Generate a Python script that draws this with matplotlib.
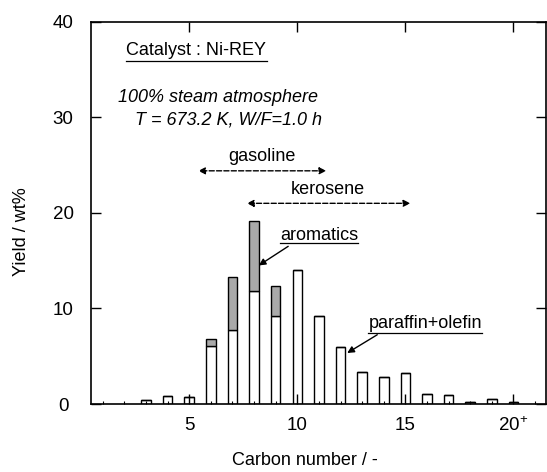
import numpy as np
import matplotlib
matplotlib.use("Agg")
import matplotlib.pyplot as plt

plt.rcParams['font.family'] = ['Liberation Sans', 'DejaVu Sans']
plt.rcParams['mathtext.fontset'] = 'custom'
plt.rcParams['mathtext.rm'] = 'Liberation Sans'
plt.rcParams['mathtext.it'] = 'Liberation Sans:italic'

# carbon number and yields (wt%)
carbon = [3, 4, 5, 6, 7, 8, 9, 10, 11, 12, 13, 14, 15, 16, 17, 18, 19, 20]
paraffin_olefin = [0.4, 0.87, 0.77, 6.1, 7.75, 11.85, 9.2, 14.0, 9.2, 5.95,
                   3.4, 2.85, 3.2, 1.1, 0.95, 0.25, 0.5, 0.25]
aromatics = [0, 0, 0, 0.7, 5.55, 7.35, 3.1, 0, 0, 0, 0, 0, 0, 0, 0, 0, 0, 0]

xticks = [5, 10, 15, 20]
xticklabels = ['5', '10', '15', '20$^{+}$']

fs = 13

fig = plt.figure(figsize=(5.47, 4.72), dpi=100)
ax = fig.add_axes([0.166, 0.144, 0.832, 0.810])

ax.bar(carbon, paraffin_olefin, width=0.44, color='white', edgecolor='black', linewidth=1.0)
ax.bar(carbon, aromatics, width=0.44, bottom=paraffin_olefin, color='#a9a9a9',
       edgecolor='black', linewidth=1.0)

ax.set_xlim(0.45, 21.5)
ax.set_ylim(0, 40)
ax.set_xticks(xticks)
ax.set_xticklabels(xticklabels)
ax.set_xticks(range(1, 22), minor=True)
ax.set_yticks([0, 10, 20, 30, 40])
ax.tick_params(which='major', direction='in', length=7, width=1.0,
               top=True, right=True, labelsize=13.5)
ax.tick_params(axis='x', which='major', pad=9)
ax.tick_params(axis='y', which='major', pad=20)
for lbl in ax.get_yticklabels():
    lbl.set_horizontalalignment('center')
ax.tick_params(which='minor', direction='in', length=2.5, width=0.8, top=False)
for s in ax.spines.values():
    s.set_linewidth(1.2)

ax.set_xlabel('Carbon number / -', fontsize=fs)
ax.set_ylabel('Yield / wt%', fontsize=fs)
ax.xaxis.set_label_coords(0.47, -0.125)
ax.yaxis.set_label_coords(-0.133, 0.45)

# text
ax.text(2.08, 37.0, 'Catalyst : Ni-REY', fontsize=fs, va='center', ha='left')
ax.plot([2.08, 8.6], [35.85, 35.85], color='black', lw=0.9)
ax.text(1.69, 32.1, '100% steam atmosphere', fontsize=fs, style='italic', va='center')
ax.text(2.5, 29.7, 'T = 673.2 K, W/F=1.0 h', fontsize=fs, style='italic', va='center')

ax.text(8.38, 25.9, 'gasoline', fontsize=fs, ha='center', va='center')
ax.annotate('', xy=(5.42, 24.4), xytext=(11.34, 24.4),
            arrowprops=dict(arrowstyle='<|-|>', linestyle='--', color='black', lw=1.0,
                            mutation_scale=10, shrinkA=0, shrinkB=0))
ax.text(11.43, 22.4, 'kerosene', fontsize=fs, ha='center', va='center')
ax.annotate('', xy=(7.67, 21.0), xytext=(15.23, 21.0),
            arrowprops=dict(arrowstyle='<|-|>', linestyle='--', color='black', lw=1.0,
                            mutation_scale=10, shrinkA=0, shrinkB=0))

ax.text(11.02, 17.6, 'aromatics', fontsize=fs, ha='center', va='center')
ax.plot([9.21, 12.82], [16.85, 16.85], color='black', lw=0.9)
ax.annotate('', xy=(8.22, 14.5), xytext=(9.58, 16.5),
            arrowprops=dict(arrowstyle='-|>', color='black', lw=1.0,
                            mutation_scale=10, shrinkA=0, shrinkB=0))

ax.text(15.93, 8.4, 'paraffin+olefin', fontsize=fs, ha='center', va='center')
ax.plot([13.29, 18.56], [7.46, 7.46], color='black', lw=0.9)
ax.annotate('', xy=(12.31, 5.34), xytext=(13.7, 7.25),
            arrowprops=dict(arrowstyle='-|>', color='black', lw=1.0,
                            mutation_scale=10, shrinkA=0, shrinkB=0))

fig.savefig('out.png', dpi=100)
